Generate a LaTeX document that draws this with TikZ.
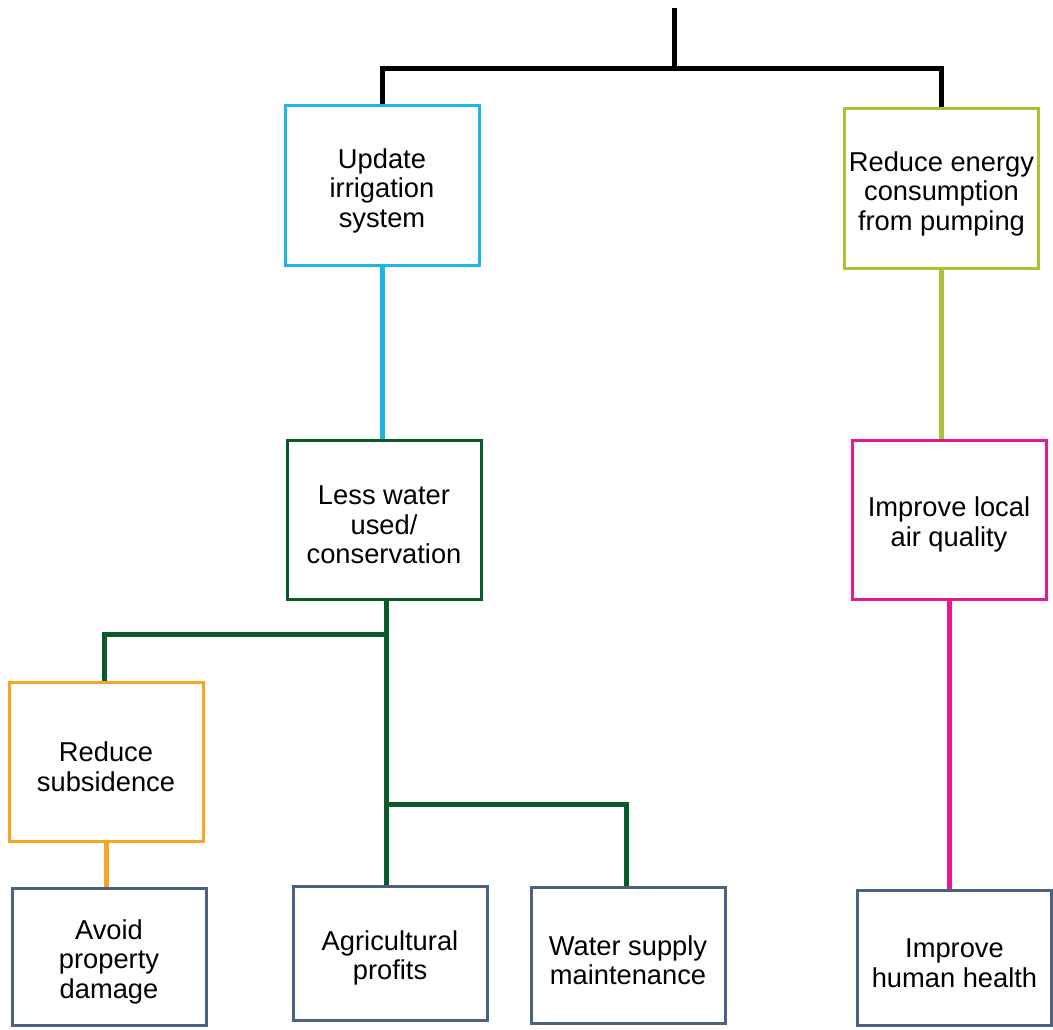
\documentclass[tikz,border=0pt]{standalone}
\usepackage{fontspec}
\setmainfont{Liberation Sans}
\definecolor{cblue}{HTML}{1EB4E8}
\definecolor{clime}{HTML}{A8C23A}
\definecolor{cdgreen}{HTML}{0B5A2A}
\definecolor{cmag}{HTML}{E5198F}
\definecolor{corange}{HTML}{F5A623}
\definecolor{cslate}{HTML}{4A6282}
\newcommand{\tz}{\rule{0pt}{30pt}}
\begin{document}
\begin{tikzpicture}[x=1pt,y=-1pt,
  box/.style={draw, line width=3pt, rectangle, align=center, minimum width=194pt,
    font=\fontsize{27.3}{29.5}\selectfont, inner sep=0pt},
  conn/.style={line width=5pt}]
\useasboundingbox (0,0) rectangle (1053,1030);
% nodes
\node[box, draw=cblue, minimum height=159pt] (upd) at (382,185.5) {\tz Update\\irrigation\\system};
\node[box, draw=clime, minimum height=159pt] (ene) at (941.5,188.5) {\tz Reduce energy\\consumption\\from pumping};
\node[box, draw=cdgreen, minimum height=159pt] (less) at (384,519.5) {\tz Less water\\used/\\conservation};
\node[box, draw=cmag, minimum height=159pt] (air) at (949,519.5) {\tz Improve local\\air quality};
\node[box, draw=corange, minimum height=159pt] (sub) at (106,761.5) {\tz Reduce\\subsidence};
\node[box, draw=cslate, minimum height=137pt] (avo) at (109,956.5) {\tz Avoid\\property\\damage};
\node[box, draw=cslate, minimum height=134pt] (agr) at (390,953) {\tz Agricultural\\profits};
\node[box, draw=cslate, minimum height=136pt] (wat) at (628,955) {\tz Water supply\\maintenance};
\node[box, draw=cslate, minimum height=135pt] (hea) at (954.5,957.5) {\tz Improve\\human health};
% junctions
\coordinate (top) at (674,8);
\coordinate (jtop) at (674,69);
\coordinate (g1) at (386,634);
\coordinate (g2) at (386,804);
% connectors
\draw[conn] (top) -- (jtop);
\draw[conn] (upd.north) |- (jtop) -| (ene.north);
\draw[conn, cblue] (upd.south) -- (less.north -| upd.south);
\draw[conn, clime] (ene.south) -- (air.north -| ene.south);
\draw[conn, cmag] (air.south) -- (hea.north -| air.south);
\draw[conn, cdgreen] (g1 |- less.south) -- (g1 |- agr.north);
\draw[conn, cdgreen] (g1) -| ([xshift=-2pt]sub.north);
\draw[conn, cdgreen] (g2) -| ([xshift=-2pt]wat.north);
\draw[conn, corange] (sub.south) -- (avo.north -| sub.south);
\end{tikzpicture}
\end{document}
